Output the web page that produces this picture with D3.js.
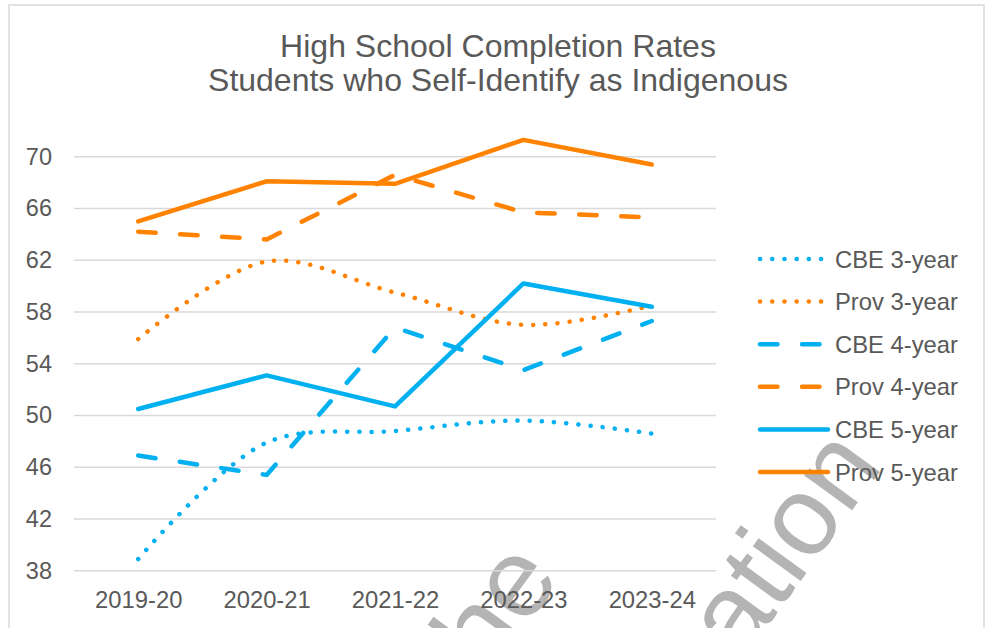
<!DOCTYPE html>
<html>
<head>
<meta charset="utf-8">
<script src="https://cdn.jsdelivr.net/npm/d3@7"></script>
<style>
  html, body { margin: 0; padding: 0; background: #fff; }
  svg { display: block; font-family: "Liberation Sans", Arial, sans-serif; }
</style>
</head>
<body>
<svg id="chart" width="985" height="628"></svg>
<script>
const titleLines = ["High School Completion Rates", "Students who Self-Identify as Indigenous"];
const categories = ["2019-20", "2020-21", "2021-22", "2022-23", "2023-24"];
const yTicks = [38, 42, 46, 50, 54, 58, 62, 66, 70];

const cbe3 = [38.9, 47.9, 48.8, 49.6, 48.6];
const prov3 = [55.9, 61.9, 59.5, 57.0, 58.5];
const cbe4 = [46.9, 45.4, 56.8, 53.5, 57.3];
const prov4 = [64.2, 63.6, 68.6, 65.7, 65.3];
const cbe5 = [50.5, 53.1, 50.7, 60.2, 58.4];
const prov5 = [65.0, 68.1, 67.9, 71.3, 69.4];

const seriesNames = ["CBE 3-year", "Prov 3-year", "CBE 4-year", "Prov 4-year", "CBE 5-year", "Prov 5-year"];
const seriesValues = [cbe3, prov3, cbe4, prov4, cbe5, prov5];

const BLUE = "#00B0F0", ORANGE = "#FF8200";
const styles = [
  {color: BLUE, dash: "0.1 12.1", smooth: true},
  {color: ORANGE, dash: "0.1 12.1", smooth: true},
  {color: BLUE, dash: "17.5 24.5", smooth: false},
  {color: ORANGE, dash: "17.5 24.5", smooth: false},
  {color: BLUE, dash: null, smooth: false},
  {color: ORANGE, dash: null, smooth: false}
];

const svg = d3.select("#chart");

// chart border
svg.append("rect").attr("x", 9).attr("y", 5).attr("width", 975).attr("height", 640)
  .attr("fill", "#fff").attr("stroke", "#d9d9d9").attr("stroke-width", 1.5);

// watermark (behind)
const wm = svg.append("g").attr("fill", "#b4b4b4").style("font-size", "112px");
wm.append("text").attr("text-anchor", "end")
  .attr("transform", "translate(562,578) rotate(-54)").text("the");
wm.append("text").attr("text-anchor", "end")
  .attr("transform", "translate(884,466) rotate(-54)").text("Education");

const x = d3.scalePoint().domain(categories).range([74, 716]).padding(0.5);
const y = d3.scaleLinear().domain([38, 70]).range([570.7, 156.7]);

// gridlines
svg.append("g").selectAll("line").data(yTicks).join("line")
  .attr("x1", 74).attr("x2", 716)
  .attr("y1", d => y(d)).attr("y2", d => y(d))
  .attr("stroke", "#d9d9d9").attr("stroke-width", 1.5);

// y axis labels
const yAxis = d3.axisLeft(y).tickValues(yTicks).tickSize(0).tickPadding(22);
const yg = svg.append("g").attr("transform", "translate(74,0)").call(yAxis);
yg.select(".domain").remove();
yg.selectAll("text").attr("fill", "#595959").style("font-size", "23.5px")
  .style("font-family", "Liberation Sans, Arial, sans-serif");

// x axis labels
const xAxis = d3.axisBottom(x).tickSize(0).tickPadding(20);
const xg = svg.append("g").attr("transform", "translate(0,570.7)").call(xAxis);
xg.select(".domain").remove();
xg.selectAll("text").attr("fill", "#595959").style("font-size", "23.8px")
  .style("font-family", "Liberation Sans, Arial, sans-serif");

// lines
const lineStraight = d3.line().x((d, i) => x(categories[i])).y(d => y(d));
const lineSmooth = d3.line().x((d, i) => x(categories[i])).y(d => y(d)).curve(d3.curveCatmullRom.alpha(0.5));

seriesValues.forEach((vals, k) => {
  const st = styles[k];
  svg.append("path").datum(vals)
    .attr("d", st.smooth ? lineSmooth : lineStraight)
    .attr("fill", "none").attr("stroke", st.color).attr("stroke-width", 4.5)
    .attr("stroke-linecap", "round").attr("stroke-linejoin", "round")
    .attr("stroke-dasharray", st.dash);
});

// title
svg.append("g").selectAll("text").data(titleLines).join("text")
  .attr("x", 498).attr("y", (d, i) => 57 + i * 34)
  .attr("text-anchor", "middle").attr("fill", "#595959").style("font-size", "32px")
  .text(d => d);

// legend
const legY = d3.scalePoint().domain(seriesNames).range([259, 472]);
const leg = svg.append("g");
seriesNames.forEach((name, k) => {
  const st = styles[k];
  const yy = legY(name);
  leg.append("line").attr("x1", 760).attr("x2", st.dash ? 832 : 828)
    .attr("y1", yy).attr("y2", yy)
    .attr("stroke", st.color).attr("stroke-width", 4.5)
    .attr("stroke-linecap", "round").attr("stroke-dasharray", st.dash);
  leg.append("text").attr("x", 835).attr("y", yy + 8.5)
    .attr("fill", "#595959").style("font-size", "23.8px").text(name);
});
</script>
</body>
</html>
